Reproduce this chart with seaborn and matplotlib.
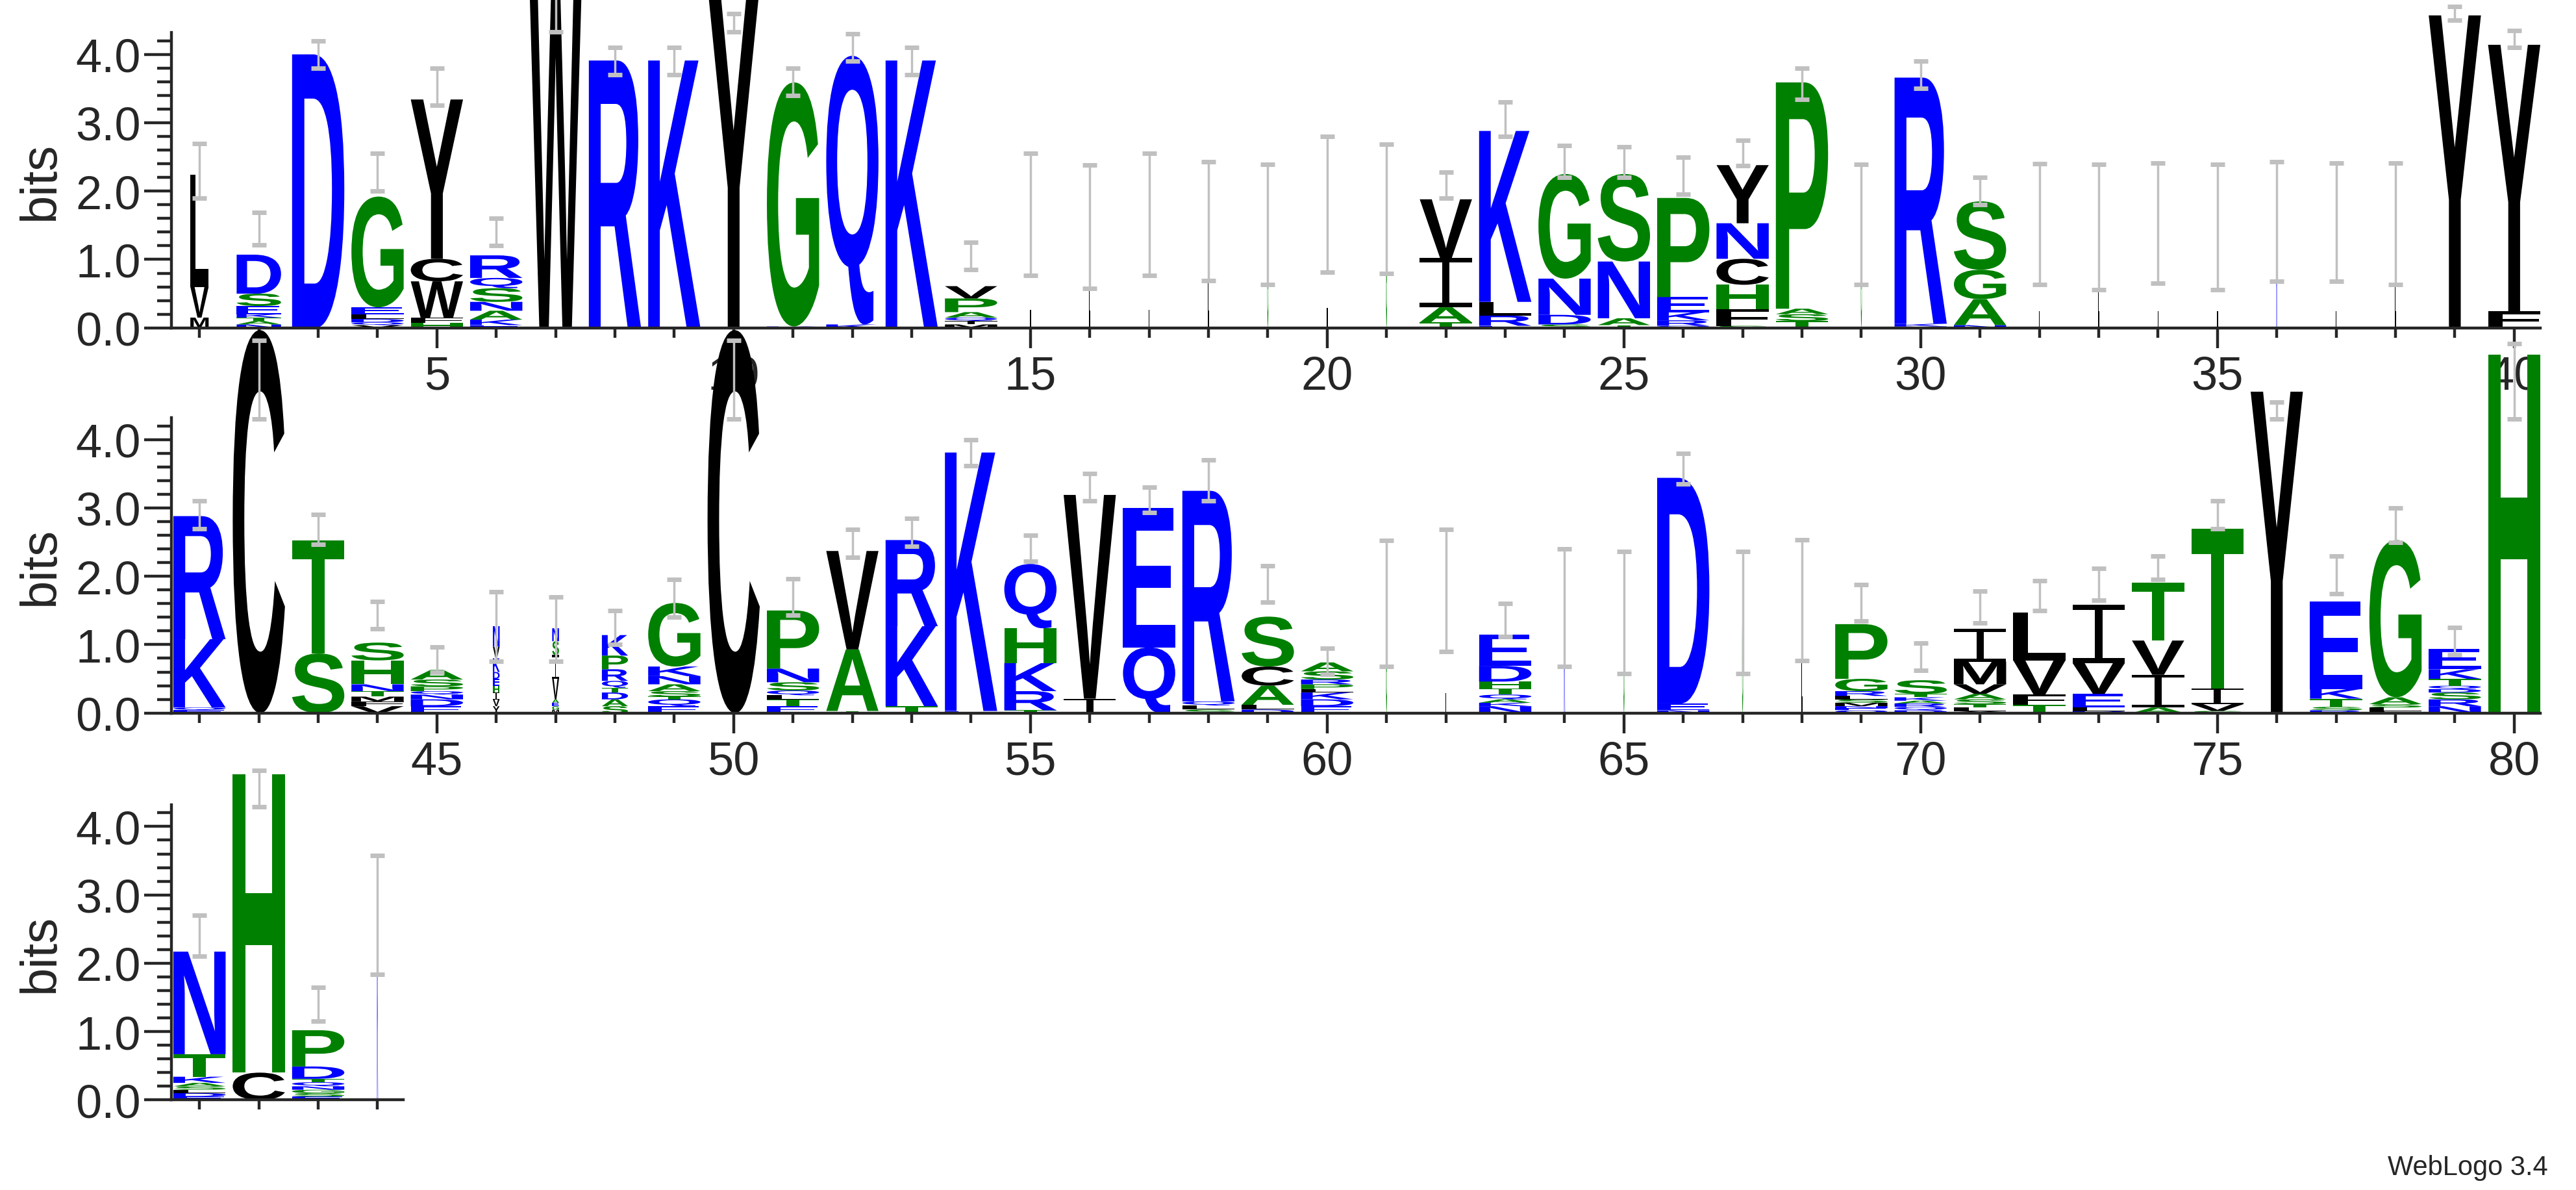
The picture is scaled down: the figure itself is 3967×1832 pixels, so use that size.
import matplotlib
matplotlib.use("Agg")
import matplotlib.pyplot as plt
import seaborn as sns
from matplotlib.textpath import TextPath
from matplotlib.font_manager import FontProperties
from matplotlib.patches import PathPatch, Rectangle
from matplotlib.transforms import Affine2D

# ---------------- data ----------------
positions = list(range(1, 85))
# stacks, bottom -> top, "letter:bits"
stacks = [
    "M:.15 V:.45 L:1.64", "N:.05 A:.05 T:.05 K:.05 E:.12 S:.18 D:.57", "D:4.0",
    "V:.04 Q:.04 D:.05 L:.07 E:.1 G:1.62", "H:.07 F:.08 W:.53 C:.33 Y:2.33",
    "E:.04 K:.08 A:.13 N:.13 S:.2 Q:.15 R:.33", "W:5.0", "R:3.91", "K:3.91", "Y:5.0",
    "K:.02 G:3.57", "K:.05 Q:3.93", "K:3.91", "M:.05 I:.05 Q:.05 A:.08 P:.2 V:.18",
    "L:1.65", "L:1.57", "L:1.65", "L:1.57", "G:1.5", "L:1.8", "G:1.75",
    "T:.08 A:.22 I:.72 V:.86", "E:.03 R:.15 L:.2 K:2.5", "S:.05 D:.14 N:.53 G:1.53",
    "T:.04 A:.1 N:.83 S:1.28", "Q:.03 R:.08 K:.12 E:.22 P:1.45",
    "S:.03 F:.24 H:.36 C:.38 N:.52 Y:.85", "T:.1 S:.1 A:.08 P:3.31", "G:1.5",
    "N:.02 K:.04 R:3.6", "N:.04 A:.38 G:.43 S:1.0",
    "L:1.5", "L:1.5", "L:1.5", "L:1.5", "K:1.55", "L:1.5", "L:1.5",
    "Y:4.57", "F:.24 Y:3.9",
    "E:.04 Q:.04 K:1.0 R:1.8", "C:5.6", "S:.87 T:1.65",
    "V:.1 F:.07 M:.07 T:.08 N:.1 H:.35 S:.26", "E:.1 D:.1 N:.07 Q:.05 P:.07 S:.1 A:.14",
    "Y:.1 V:.1 I:.1 H:.1 E:.1 D:.1 K:.2 V:.17 N:.3",
    "M:.05 G:.05 E:.05 A:.05 V:.3 I:.35 S:.2 N:.19",
    "S:.1 A:.1 D:.1 T:.07 Q:.1 R:.17 P:.2 K:.3",
    "E:.1 Q:.1 T:.04 S:.08 A:.1 N:.12 K:.14 G:.93", "C:5.6",
    "E:.1 T:.1 L:.06 Q:.07 S:.12 N:.2 P:.85", "T:.03 A:.9 V:1.44", "T:.1 K:1.17 R:1.26",
    "E:.03 K:3.78", "T:.04 R:.28 K:.41 H:.51 Q:.94", "I:.21 V:2.98", "Q:.96 E:2.04",
    "S:.05 L:.06 Q:.06 R:3.08", "D:.05 L:.07 A:.28 C:.28 S:.73",
    "E:.1 D:.1 K:.1 L:.05 P:.07 R:.07 S:.12 A:.13", "G:1.6", "L:1.8",
    "N:.1 K:.05 A:.05 Q:.07 T:.09 H:.1 D:.23 E:.46", "K:1.55", "G:1.57",
    "N:.04 E:.1 D:3.3", "G:1.57", "L:1.5",
    "Q:.04 E:.03 N:.03 M:.05 S:.05 L:.05 R:.07 G:.18 P:.8",
    "D:.04 Q:.05 R:.05 A:.04 K:.05 T:.05 S:.2",
    "Y:.03 L:.05 T:.05 S:.07 A:.08 V:.14 M:.33 I:.48", "T:.12 F:.15 V:.5 L:.7",
    "D:.03 L:.05 E:.2 V:.45 I:.85", "A:.08 I:.48 V:.5 T:.85", "S:.03 V:.1 I:.23 T:2.34",
    "Y:4.7", "R:.04 S:.05 T:.12 K:.14 E:1.28", "F:.03 L:.05 S:.05 A:.1 G:2.3",
    "N:.1 R:.1 S:.1 D:.05 Q:.05 T:.1 K:.14 E:.3", "H:5.24",
    "E:.05 D:.05 L:.05 S:.05 A:.05 K:.09 T:.33 N:1.5", "C:.4 H:4.36",
    "E:.05 S:.05 G:.05 N:.05 Q:.06 T:.05 D:.18 P:.53", "K:2.7",
]
# fraction of sequences occupying the column (stack width)
occupancy = [1.0] * 84
for p in [15, 16, 17, 18, 19, 20, 21, 29, 32, 33, 34, 35, 36, 37, 38, 61, 62, 64, 65, 67, 68, 84]:
    occupancy[p - 1] = 0.02
for p in [46, 47]:
    occupancy[p - 1] = 0.13
occupancy[0] = 0.35
occupancy[1] = 0.85
occupancy[47] = 0.5
err_lo = [1.9, 1.21, 3.8, 2.0, 3.26, 1.2, 4.33, 3.7, 3.7, 4.33, 3.4, 3.9, 3.7, .85, .77, .58, .77, .69, .63, .81,
          .8, 1.9, 2.8, 2.2, 2.2, 1.95, 2.37, 3.34, .63, 3.5, 1.8, .63, .56, .65, .56, .68, .68, .63, 4.5, 4.1,
          2.7, 4.3, 2.47, 1.23, .6, .76, .76, 1.0, 1.4, 4.3, 1.43, 2.28, 2.44, 3.62, 2.22, 3.1, 2.93, 3.1, 1.62, .57,
          .68, .9, 1.12, .68, .58, 3.35, .58, .77, 1.35, .62, 1.32, 1.5, 1.65, 1.95, 2.7, 4.3, 1.75, 2.5, .85, 4.3,
          2.1, 4.29, 1.15, 1.84]
err_hi = [2.7, 1.69, 4.2, 2.55, 3.8, 1.6, 5.0, 4.1, 4.1, 4.6, 3.8, 4.3, 4.1, 1.25, 2.55, 2.38, 2.55, 2.43, 2.39, 2.8,
          2.69, 2.28, 3.3, 2.67, 2.65, 2.5, 2.74, 3.8, 2.39, 3.9, 2.2, 2.4, 2.39, 2.41, 2.39, 2.43, 2.41, 2.41, 4.7, 4.35,
          3.1, 5.45, 2.9, 1.63, .97, 1.77, 1.7, 1.5, 1.95, 5.45, 1.96, 2.69, 2.85, 4.0, 2.6, 3.5, 3.3, 3.7, 2.15, .95,
          2.52, 2.69, 1.6, 2.4, 2.36, 3.8, 2.36, 2.53, 1.88, 1.02, 1.78, 1.94, 2.12, 2.3, 3.1, 4.55, 2.3, 3.0, 1.25, 5.4,
          2.7, 4.82, 1.65, 3.58]
rows = [(1, 40), (41, 80), (81, 84)]
yticks = [0.0, 1.0, 2.0, 3.0, 4.0]

BLUE, GREEN, BLACK = "#0000ff", "#008000", "#000000"
colors = {}
for c in "DEKRQN":
    colors[c] = BLUE
for c in "GSTPAH":
    colors[c] = GREEN
for c in "YWCVLIMF":
    colors[c] = BLACK

# ---------------- drawing ----------------
sns.set_style("ticks")
plt.rcParams['font.family'] = ['Liberation Sans', 'DejaVu Sans']

fig = plt.figure(figsize=(39.67, 18.33), dpi=100)
unit = 0.02304
bottoms = [0.7241, 0.4006, 0.0756]
height = 4.32 * 41.0 / 714
fp = FontProperties(family="Liberation Sans", weight="bold")
glyphs = {}


def glyph(ch):
    if ch not in glyphs:
        tp = TextPath((0, 0), ch, prop=fp, size=1)
        glyphs[ch] = (tp, tp.get_extents())
    return glyphs[ch]


def draw_letter(ax, ch, p, y, w, h):
    col = colors[ch]
    if ch == "I":
        bar = h * 0.09
        sw = w * 0.14
        for rect in [Rectangle((p - w / 2, y), w, bar),
                     Rectangle((p - w / 2, y + h - bar), w, bar),
                     Rectangle((p - sw / 2, y), sw, h)]:
            rect.set_facecolor(col)
            rect.set_edgecolor("none")
            rect.set_clip_on(False)
            rect.set_zorder(2)
            ax.add_patch(rect)
        return
    tp, ext = glyph(ch)
    tr = (Affine2D().translate(-ext.x0, -ext.y0)
          .scale(w / ext.width, h / ext.height)
          .translate(p - w / 2, y))
    ax.add_patch(PathPatch(tr.transform_path(tp), facecolor=col, edgecolor="none",
                           transform=ax.transData, clip_on=False, zorder=2))


for (start, end), bot in zip(rows, bottoms):
    x0 = start - 0.475
    x1 = end + 0.435
    ax = fig.add_axes([0.0665, bot, (x1 - x0) * unit, height])
    ax.set_xlim(x0, x1)
    ax.set_ylim(0, 4.32)
    for p in range(start, end + 1):
        y = 0.0
        w = 0.88 * occupancy[p - 1]
        for item in stacks[p - 1].split():
            ch, h = item.split(":")
            h = float(h)
            draw_letter(ax, ch, p, y, w, h)
            y += h
        ax.vlines(p, err_lo[p - 1], err_hi[p - 1], color="#c0c0c0", lw=2.5, zorder=3, clip_on=False)
        ax.hlines([err_lo[p - 1], err_hi[p - 1]], p - 0.12, p + 0.12, color="#c0c0c0", lw=5, zorder=3, clip_on=False)
    sns.despine(ax=ax)
    for s in ["left", "bottom"]:
        ax.spines[s].set_linewidth(3.2)
    ax.spines["left"].set_bounds(0, 4.32)
    ax.set_yticks(yticks)
    ax.set_yticklabels([f"{v:.1f}" for v in yticks])
    ax.set_yticks([v / 5 for v in range(0, 22)], minor=True)
    ax.set_xticks([p for p in range(start, end + 1) if p % 5 == 0])
    ax.set_xticks(list(range(start, end + 1)), minor=True)
    ax.tick_params(axis="y", which="major", length=30, width=3.2, labelsize=52, pad=4)
    ax.tick_params(axis="y", which="minor", length=16, width=3.2)
    ax.tick_params(axis="x", which="major", length=22, width=3.2, labelsize=52, pad=8)
    ax.tick_params(axis="x", which="minor", length=11, width=3.2)
    ax.set_ylabel("bits", fontsize=56, labelpad=12)
    ax.patch.set_alpha(0)

fig.text(0.989, 0.008, "WebLogo 3.4", ha="right", va="bottom", fontsize=30)
fig.savefig("out.png", dpi=100)
